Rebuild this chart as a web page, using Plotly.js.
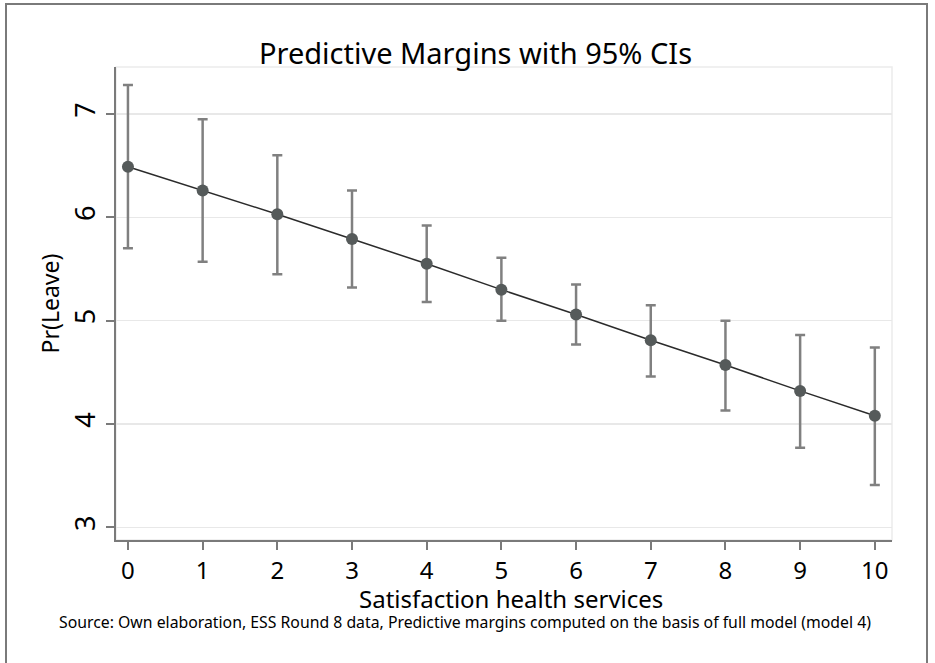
<!DOCTYPE html>
<html>
<head>
<meta charset="utf-8">
<script src="https://cdn.plot.ly/plotly-3.0.1.min.js"></script>
<style>
html,body{margin:0;padding:0;background:#fff;}
#wrap{position:relative;width:935px;height:663px;}
#chart{width:935px;height:663px;}
#frame{position:absolute;left:5px;top:3px;width:923px;height:670px;border:2px solid #7a7a7a;pointer-events:none;box-sizing:border-box;}
</style>
</head>
<body>
<div id="wrap"><div id="chart"></div><div id="frame"></div></div>
<script>
// Satisfaction with health services (0-10)
const satisfaction = [0, 1, 2, 3, 4, 5, 6, 7, 8, 9, 10];
// Predictive margins
const margin = [6.49, 6.26, 6.03, 5.79, 5.55, 5.30, 5.06, 4.81, 4.57, 4.32, 4.08];
// 95% CI bounds
const ciUpper = [7.28, 6.95, 6.60, 6.26, 5.92, 5.61, 5.35, 5.15, 5.00, 4.86, 4.74];
const ciLower = [5.70, 5.57, 5.45, 5.32, 5.18, 5.00, 4.77, 4.46, 4.13, 3.77, 3.41];
const xTicks = [0, 1, 2, 3, 4, 5, 6, 7, 8, 9, 10];
const yTicks = [3, 4, 5, 6, 7];

const errPlus = ciUpper.map((u, i) => u - margin[i]);
const errMinus = margin.map((m, i) => m - ciLower[i]);

const font = '"Noto Sans", "Open Sans", sans-serif';

const traces = [{
  x: satisfaction,
  y: margin,
  type: 'scatter',
  mode: 'lines+markers',
  line: {color: '#2b2b2b', width: 1.5},
  marker: {color: '#555a5a', size: 12},
  error_y: {
    type: 'data', symmetric: false,
    array: errPlus, arrayminus: errMinus,
    color: '#808080', thickness: 2.5, width: 5
  },
  hoverinfo: 'x+y'
}];

const layout = {
  width: 935, height: 663,
  paper_bgcolor: '#ffffff', plot_bgcolor: '#ffffff',
  margin: {l: 116, r: 43, t: 67, b: 123},
  showlegend: false,
  font: {family: font, color: '#000'},
  title: {
    text: 'Predictive Margins with 95% CIs',
    font: {family: font, size: 29, color: '#000'},
    x: (475.5 - 116) / 776, xanchor: 'center', xref: 'paper',
    y: 1 - 54 / 663, yanchor: 'middle', yref: 'container'
  },
  xaxis: {
    range: [-0.16, 10.23],
    tickvals: xTicks, ticktext: xTicks.map(String),
    ticks: 'outside', ticklen: 8, tickwidth: 2, tickcolor: '#7a7a7a',
    showline: true, linecolor: '#7a7a7a', linewidth: 2,
    showgrid: false, zeroline: false,
    tickfont: {family: font, size: 24, color: '#000'}
  },
  yaxis: {
    range: [2.877, 7.455],
    tickvals: yTicks, ticktext: yTicks.map(String),
    tickangle: -90,
    ticks: 'outside', ticklen: 8, tickwidth: 2, tickcolor: '#7a7a7a',
    showline: true, linecolor: '#7a7a7a', linewidth: 2,
    showgrid: true, gridcolor: '#e8e8e8', gridwidth: 1.5,
    zeroline: false,
    tickfont: {family: font, size: 27, color: '#000'},
    title: {text: 'Pr(Leave)', font: {family: font, size: 23, color: '#000'}, standoff: 0}
  },
  shapes: [{
    type: 'rect', xref: 'paper', yref: 'paper', x0: 0, x1: 1, y0: 0, y1: 1,
    line: {color: '#ececec', width: 1.5}, layer: 'below'
  }],
  annotations: [{
    text: 'Satisfaction health services',
    xref: 'paper', yref: 'paper', x: (511 - 116) / 776, y: -(598 - 540) / 473,
    xanchor: 'center', yanchor: 'middle', showarrow: false,
    font: {family: font, size: 24, color: '#000'}
  }, {
    text: 'Source: Own elaboration, ESS Round 8 data, Predictive margins computed on the basis of full model (model 4)',
    xref: 'paper', yref: 'paper', x: (57 - 116) / 776, y: -(622 - 540) / 473,
    xanchor: 'left', yanchor: 'middle', showarrow: false,
    font: {family: font, size: 15.8, color: '#000'}
  }]
};

Plotly.newPlot('chart', traces, layout, {displayModeBar: false, staticPlot: true});
</script>
</body>
</html>
